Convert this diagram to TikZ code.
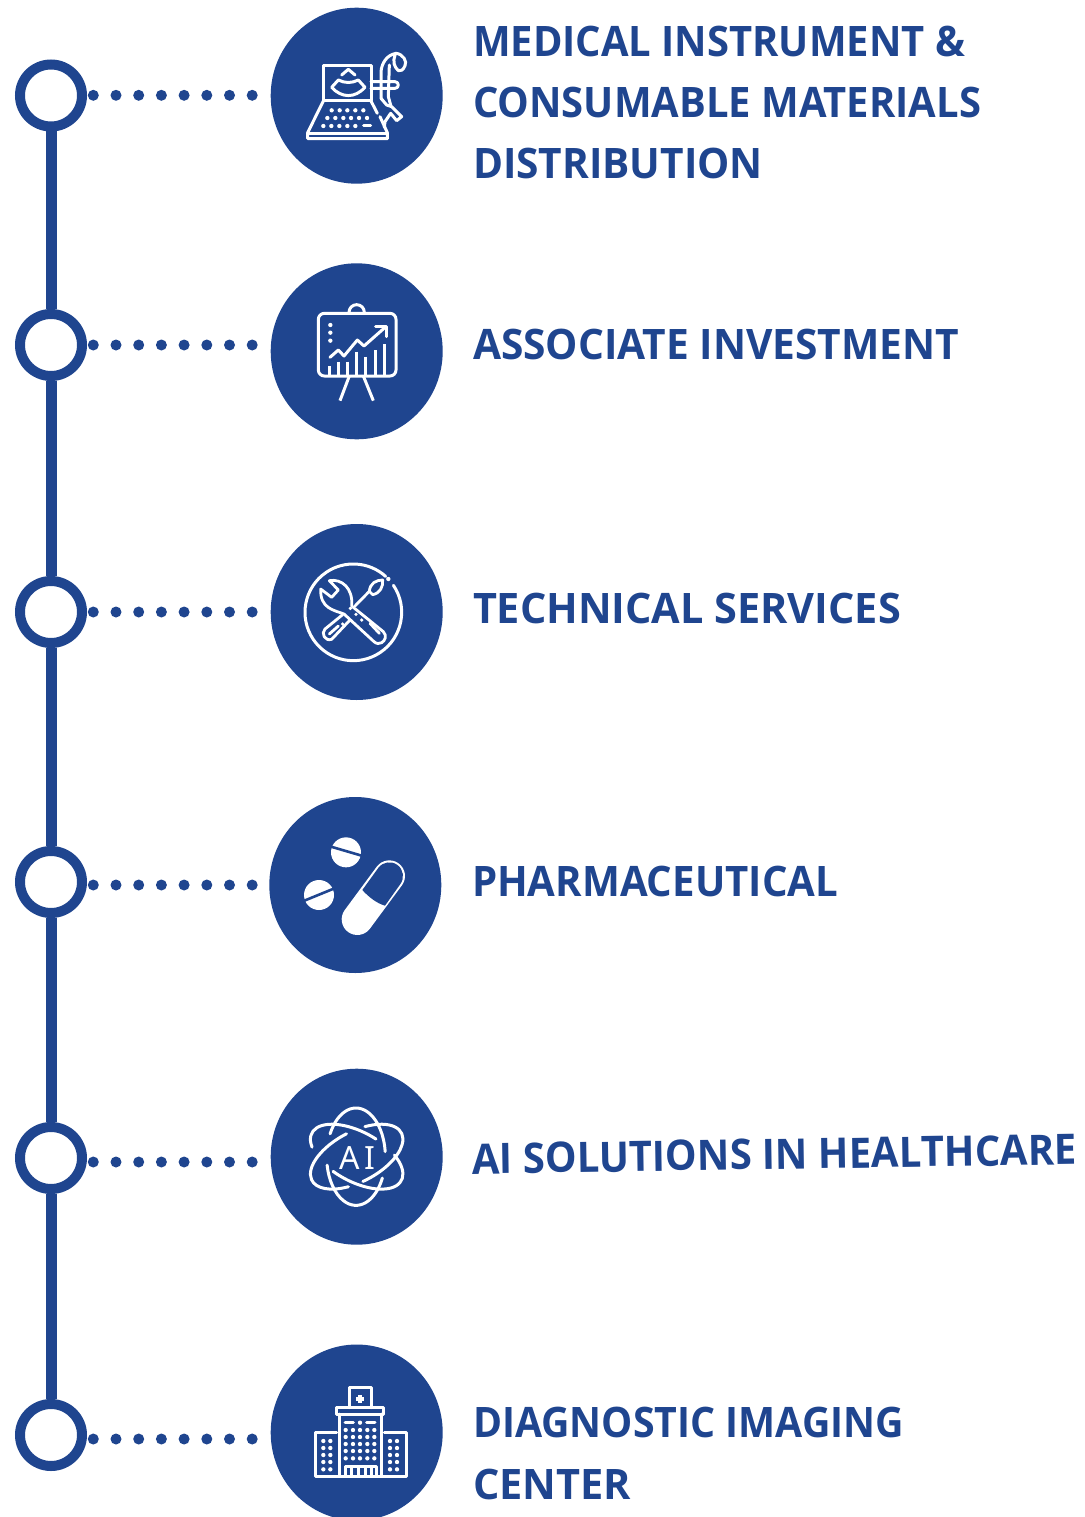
\documentclass[tikz,border=0pt]{standalone}
\usepackage{fontspec}
\usepackage{graphicx}
\setmainfont{Noto Sans}
\newfontfamily\labfont{Open Sans}
\usetikzlibrary{shapes.geometric}
\definecolor{navy}{HTML}{1F458F}
\newcommand{\lbl}[2]{\resizebox{#1pt}{\height}{#2}}
\tikzset{
  ringnode/.style={circle,draw=navy,line width=10pt,fill=white,minimum size=62pt,inner sep=0pt,outer sep=5pt},
  spine/.style={draw=navy,line width=11pt},
  dots/.style={draw=navy,line width=11pt,line cap=round,dash pattern=on 0pt off 22.7pt},
  disc/.style={ellipse,fill=navy,minimum width=172pt,minimum height=176pt,inner sep=0pt,outer sep=0pt},
  lab/.style={anchor=base west,inner sep=0pt,outer sep=0pt,text=navy,font=\labfont\fontsize{42}{50}\selectfont\bfseries},
  ic/.style={draw=white,line width=3pt,line join=round,line cap=round},
  thin/.style={draw=white,line width=2.8pt,line join=round,line cap=round},
  wd/.style={fill=white,draw=none},
}
\newcommand{\orb}[7]{\draw[ic,rotate around={#1:(#2,#3)}] (#2,#3) ++(#6:#4 and #5) arc[start angle=#6,end angle=#7,x radius=#4,y radius=#5];}
\begin{document}
\begin{tikzpicture}[x=1pt,y=-1pt]
\useasboundingbox (0,0) rectangle (1084,1517);
\fill[white] (0,0) rectangle (1084,1517);
% rings
\node[ringnode] (r1) at (51,95.5) {};
\node[ringnode] (r2) at (51,345) {};
\node[ringnode] (r3) at (51,612) {};
\node[ringnode] (r4) at (51,882) {};
\node[ringnode] (r5) at (51,1158) {};
\node[ringnode] (r6) at (51,1435) {};
\draw[spine] (r1) -- (r2);
\draw[spine] (r2) -- (r3);
\draw[spine] (r3) -- (r4);
\draw[spine] (r4) -- (r5);
\draw[spine] (r5) -- (r6);
% discs
\node[disc] (d1) at (356.7,95.7) {};
\node[disc] (d2) at (356.7,351.3) {};
\node[disc] (d3) at (356.7,612) {};
\node[disc] (d4) at (355.3,885) {};
\node[disc] (d5) at (356.7,1156.7) {};
\node[disc] (d6) at (356.7,1432.5) {};
% dotted connectors
\coordinate (s1) at (93.3,95.3);  \coordinate (e1) at (274,95.3);
\coordinate (s2) at (93.3,345);   \coordinate (e2) at (274,345);
\coordinate (s3) at (93.3,612);   \coordinate (e3) at (274,612);
\coordinate (s4) at (93.3,885);   \coordinate (e4) at (272,885);
\coordinate (s5) at (93.3,1162);  \coordinate (e5) at (274,1162);
\coordinate (s6) at (93.3,1439);  \coordinate (e6) at (274,1439);
\foreach \i in {1,...,6}{\draw[dots] (s\i) -- (e\i);}
% labels
\node[lab] (t1a) at (473,57) {\lbl{492}{MEDICAL INSTRUMENT \&}};
\node[lab] (t1b) at (473,118) {\lbl{508}{CONSUMABLE MATERIALS}};
\node[lab] (t1c) at (473,179) {\lbl{290}{DISTRIBUTION}};
\node[lab] (t2) at (473,359) {\lbl{486}{ASSOCIATE INVESTMENT}};
\node[lab] (t3) at (473,623) {\lbl{428}{TECHNICAL SERVICES}};
\node[lab] (t4) at (472,896) {\lbl{366}{PHARMACEUTICAL}};
\node[lab,rotate=0.9] (t5) at (472,1174) {\lbl{605}{AI SOLUTIONS IN HEALTHCARE}};
\node[lab] (t6a) at (473,1437) {\lbl{431}{DIAGNOSTIC IMAGING}};
\node[lab] (t6b) at (473,1499) {\lbl{158}{CENTER}};
% icon 1: ultrasound
\begin{scope}[shift={(270,0)},scale=1/3]
\draw[ic] (160,303) -- (160,198) -- (303,198) -- (303,303) -- cycle;
\draw[ic] (160,303) -- (113,398) -- (113,416) -- (352,416) -- (352,398) -- (330,350);
\draw[ic] (303,303) -- (322,340);
\draw[ic] (113,400) -- (352,400);
\draw[ic] (215,225) -- (235,208) -- (255,225);
\draw[ic] (205,240) .. controls (225,250) and (245,250) .. (265,240) -- (285,262) .. controls (255,295) and (215,295) .. (185,262) -- cycle;
\draw[ic] (303,245) -- (375,245) arc[start angle=-90,end angle=90,radius=10] -- (303,265);
\draw[ic] (333,295) -- (333,215) .. controls (335,190) and (350,165) .. (378,160) .. controls (400,162) and (412,185) .. (405,197) .. controls (400,210) and (392,215) .. (385,212) .. controls (372,200) and (368,185) .. (375,165);
\draw[ic] (358,195) -- (355,290) -- (362,315);
\draw[ic] (333,295) -- (350,315) -- (365,320) -- (395,350) -- (380,362) -- (362,340) -- (345,365) -- (343,382);
\foreach \x in {185,209,232,256,280} \fill[wd] (\x,331) circle (6.5);
\foreach \x in {172,196,220,243,267,291} \fill[wd] (\x,354) circle (6.5);
\foreach \x in {160,184,208,232,256} \fill[wd] (\x,378) circle (6.5);
\draw[ic] (281,378) -- (302,378);
\end{scope}
% icon 2: chart
\begin{scope}[shift={(270,260)},scale=1/3]
\draw[ic,rounded corners=6pt] (145,160) rectangle (378,348);
\draw[ic] (237,157) arc[start angle=180,end angle=360,radius=23];
\draw[ic,line cap=butt] (238,348) -- (210,422);
\draw[ic,line cap=butt] (280,348) -- (310,422);
\foreach \y in {195,218,242} \fill[wd] (181,\y) circle (6.5);
\draw[ic] (180,292) -- (205,270) -- (222,288) -- (262,240) -- (282,258) -- (342,205);
\draw[ic] (317,198) -- (348,198) -- (348,230);
\foreach \x/\y in {178/318,206/305,232/305,259/275,287/290,315/270,343/253} \draw[ic,line cap=butt] (\x,\y) -- (\x,347);
\end{scope}
% icon 3: tools
\begin{scope}[shift={(270,520)},scale=1/3]
\draw[ic] (250,277) ++(-34:145) arc[start angle=-34,end angle=312,radius=145];
\fill[wd] (355,177) circle (6.5);
\draw[thin] (245,258) -- (340,335) .. controls (352,348) and (345,362) .. (335,368) .. controls (328,372) and (320,372) .. (312,365) -- (222,282) .. controls (190,270) and (150,265) .. (152,207) -- (185,232) -- (205,210) -- (178,182) .. controls (215,175) and (250,205) .. (245,258);
\draw[thin] (255,258) -- (298,214);
\draw[thin] (298,214) .. controls (300,190) and (318,180) .. (338,180) .. controls (340,200) and (330,220) .. (308,224) -- cycle;
\draw[thin] (218,284) -- (165,327) .. controls (152,340) and (165,365) .. (185,358) -- (240,300);
\draw[thin] (300,310) -- (328,340);
\draw[thin] (178,342) -- (205,318);
\foreach \x/\y in {241/265,258/283,275/300,218/312} \fill[wd] (\x,\y) circle (5.5);
\end{scope}
% icon 4: pills
\begin{scope}[shift={(270,795)},scale=1/3]
\fill[wd] (228,172) circle (45);
\draw[navy,line width=2.6pt] (183,155) -- (275,182);
\fill[wd] (147,300) circle (45);
\draw[navy,line width=2.6pt] (103,317) -- (191,281);
\draw[white,line width=31.3pt,line cap=round] (262,373) -- (358,243);
\fill[navy] (277,285) -- (325,218.6) arc[start angle=216.5,end angle=396.5,radius=41] -- (345,332) .. controls (320,325) and (295,305) .. (277,285) -- cycle;
\end{scope}
% icon 5: AI atom
\begin{scope}[shift={(270,1065)},scale=1/3]
\orb{0}{258}{275}{88}{146}{208}{354}
\orb{0}{258}{275}{88}{146}{26}{170}
\orb{-28}{260}{275}{152}{75}{150}{280}
\orb{-28}{260}{275}{152}{75}{310}{466}
\orb{28}{260}{275}{152}{75}{295}{457}
\orb{28}{260}{275}{152}{75}{272}{115}
\node[inner sep=0pt,text=white,font=\fontsize{32}{36}\selectfont] (ai) at (262,280) {A\,I};
\end{scope}
% icon 6: hospital
\begin{scope}[shift={(270,1340)},scale=1/3]
\draw[ic] (238,203) -- (238,143) -- (303,143) -- (303,203);
\fill[wd] (265,165) rectangle (275,190);
\fill[wd] (258,172) rectangle (283,183);
\draw[ic] (200,222) -- (200,203) -- (340,203) -- (340,222) -- cycle;
\draw[ic] (208,222) -- (208,408);
\draw[ic] (335,222) -- (335,408);
\draw[ic] (200,278) -- (135,278) -- (135,408) -- (408,408) -- (408,278) -- (343,278);
\draw[ic] (225,408) -- (225,378) -- (318,378) -- (318,408);
\foreach \x in {245,265,285,305} \draw[ic] (\x,382) -- (\x,405);
\draw[ic] (225,248) -- (250,248);
\draw[ic] (290,248) -- (315,248);
\fill[wd] (270,248) circle (6.5);
\foreach \y in {270,291,312,333,355} \foreach \x in {227,249,270,292,313} \fill[wd] (\x,\y) circle (6.5);
\foreach \y in {303,324,345,366,388} {\foreach \x in {160,181,360,381} \fill[wd] (\x,\y) circle (6.5);}
\end{scope}
\end{tikzpicture}
\end{document}
